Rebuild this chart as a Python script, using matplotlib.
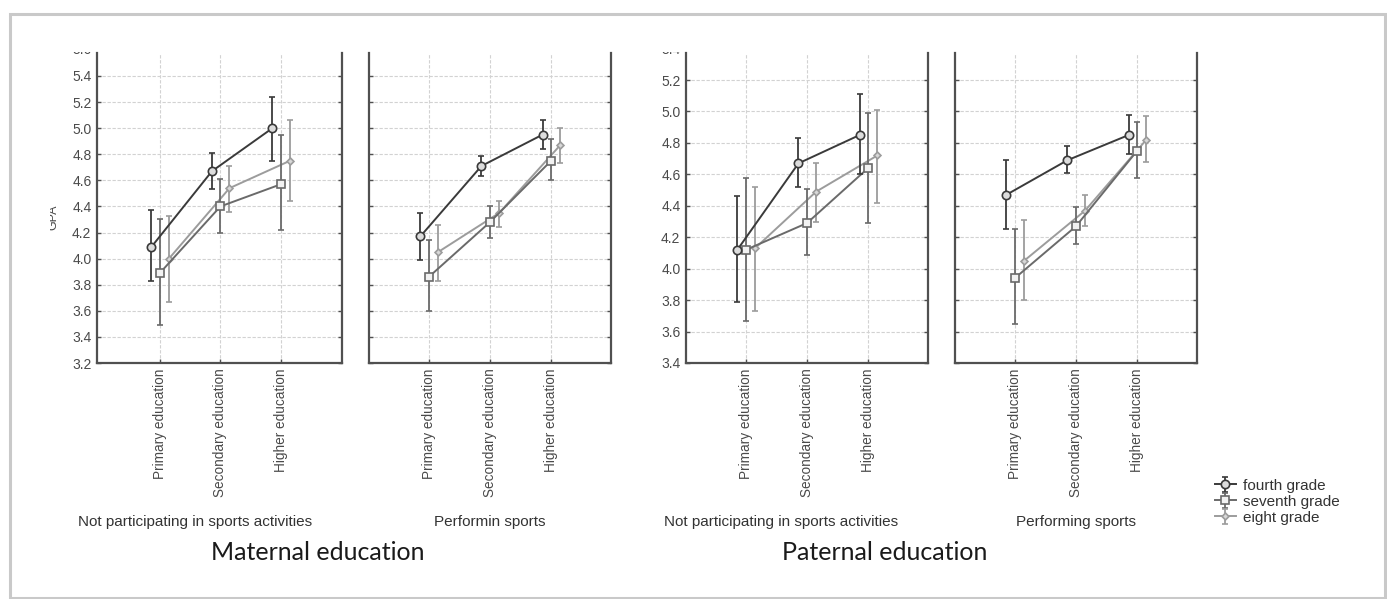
import matplotlib
matplotlib.use("Agg")
import matplotlib.pyplot as plt
from matplotlib.patches import Rectangle
from matplotlib.transforms import Bbox

# ---------------- data ----------------
categories = ["Primary education", "Secondary education", "Higher education"]
grades = ["fourth grade", "seventh grade", "eight grade"]
panel_titles = ["Not participating in sports activities", "Performin sports",
                "Not participating in sports activities", "Performing sports"]
group_titles = ["Maternal education", "Paternal education"]

# Maternal education, not participating
p1_fourth = [4.09, 4.67, 5.00]
p1_fourth_lo = [3.83, 4.53, 4.75]
p1_fourth_hi = [4.37, 4.81, 5.24]
p1_seventh = [3.89, 4.40, 4.57]
p1_seventh_lo = [3.49, 4.20, 4.22]
p1_seventh_hi = [4.30, 4.61, 4.95]
p1_eighth = [4.00, 4.54, 4.75]
p1_eighth_lo = [3.67, 4.36, 4.44]
p1_eighth_hi = [4.33, 4.71, 5.06]

# Maternal education, performing sports
p2_fourth = [4.17, 4.71, 4.95]
p2_fourth_lo = [3.99, 4.63, 4.84]
p2_fourth_hi = [4.35, 4.79, 5.06]
p2_seventh = [3.86, 4.28, 4.75]
p2_seventh_lo = [3.60, 4.16, 4.60]
p2_seventh_hi = [4.14, 4.40, 4.92]
p2_eighth = [4.05, 4.35, 4.87]
p2_eighth_lo = [3.83, 4.24, 4.73]
p2_eighth_hi = [4.26, 4.44, 5.00]

# Paternal education, not participating
p3_fourth = [4.12, 4.67, 4.85]
p3_fourth_lo = [3.79, 4.52, 4.60]
p3_fourth_hi = [4.46, 4.83, 5.11]
p3_seventh = [4.12, 4.29, 4.64]
p3_seventh_lo = [3.67, 4.09, 4.29]
p3_seventh_hi = [4.58, 4.51, 4.99]
p3_eighth = [4.13, 4.49, 4.72]
p3_eighth_lo = [3.73, 4.30, 4.42]
p3_eighth_hi = [4.52, 4.67, 5.01]

# Paternal education, performing sports
p4_fourth = [4.47, 4.69, 4.85]
p4_fourth_lo = [4.25, 4.61, 4.73]
p4_fourth_hi = [4.69, 4.78, 4.98]
p4_seventh = [3.94, 4.27, 4.75]
p4_seventh_lo = [3.65, 4.16, 4.58]
p4_seventh_hi = [4.25, 4.39, 4.93]
p4_eighth = [4.05, 4.37, 4.82]
p4_eighth_lo = [3.80, 4.27, 4.68]
p4_eighth_hi = [4.31, 4.47, 4.97]

panels = [
    [(p1_fourth, p1_fourth_lo, p1_fourth_hi), (p1_seventh, p1_seventh_lo, p1_seventh_hi), (p1_eighth, p1_eighth_lo, p1_eighth_hi)],
    [(p2_fourth, p2_fourth_lo, p2_fourth_hi), (p2_seventh, p2_seventh_lo, p2_seventh_hi), (p2_eighth, p2_eighth_lo, p2_eighth_hi)],
    [(p3_fourth, p3_fourth_lo, p3_fourth_hi), (p3_seventh, p3_seventh_lo, p3_seventh_hi), (p3_eighth, p3_eighth_lo, p3_eighth_hi)],
    [(p4_fourth, p4_fourth_lo, p4_fourth_hi), (p4_seventh, p4_seventh_lo, p4_seventh_hi), (p4_eighth, p4_eighth_lo, p4_eighth_hi)],
]

# ---------------- style ----------------
W, H = 1387, 599
plt.rcParams['font.family'] = ['Liberation Sans', 'DejaVu Sans']
fig = plt.figure(figsize=(W / 100, H / 100), dpi=100)
fig.patch.set_facecolor('white')

def px(x0, y0, x1, y1):
    return [x0 / W, 1 - y1 / H, (x1 - x0) / W, (y1 - y0) / H]

axes_px = [(97, 53, 342, 363), (369, 53, 611, 363), (686, 53, 928, 363), (955, 53, 1197, 363)]
xlims = [(-1.04, 3.01), (-0.98, 2.98), (-0.98, 2.98), (-0.98, 2.98)]
ylims = [(3.2, 5.576), (3.2, 5.576), (3.4, 5.372), (3.4, 5.372)]
yticks_sets = [[3.2 + 0.2 * i for i in range(12)], [3.2 + 0.2 * i for i in range(12)],
               [3.4 + 0.2 * i for i in range(10)], [3.4 + 0.2 * i for i in range(10)]]

colors = ['#3a3a3a', '#6a6a6a', '#9c9c9c']
markers = ['o', 's', 'D']
msizes = [6, 6, 3.5]
mfcs = ['#dcdcdc', '#f2f2f2', '#d8d8d8']
offsets = [-0.14, 0.0, 0.15]
spine_col = '#505050'
tick_col = '#4a4a4a'

handles = []
for k, (rect, series) in enumerate(zip(axes_px, panels)):
    ax = fig.add_axes(px(*rect))
    ax.set_xlim(*xlims[k])
    ax.set_ylim(*ylims[k])
    ax.set_yticks(yticks_sets[k])
    ax.set_xticks(range(len(categories)))
    ax.set_xticklabels(categories, rotation=90, fontsize=9.8, color=tick_col)
    if k in (0, 2):
        ax.set_yticklabels([f"{v:.1f}" for v in yticks_sets[k]], fontsize=10, color=tick_col)
    else:
        ax.set_yticklabels([])
    ax.tick_params(axis='both', direction='in', length=3, width=1, color=spine_col,
                   right=True, pad=4)
    ax.tick_params(axis='x', pad=4)
    ax.grid(True, color='#d2d2d2', linestyle=(0, (3, 1.5)), linewidth=0.8)
    ax.set_axisbelow(True)
    ax.spines['top'].set_visible(False)
    for s in ('left', 'right', 'bottom'):
        ax.spines[s].set_color(spine_col)
        ax.spines[s].set_linewidth(1.6)
    for g, (mean, lo, hi) in enumerate(series):
        xs = [i + offsets[g] for i in range(len(categories))]
        yerr = [[m - l for m, l in zip(mean, lo)], [h - m for m, h in zip(mean, hi)]]
        cont = ax.errorbar(xs, mean, yerr=yerr, color=colors[g], lw=1.4, elinewidth=1.3,
                           capsize=2.5, capthick=1.2, marker=markers[g], ms=msizes[g],
                           mfc=mfcs[g], mec=colors[g], mew=1.2, zorder=3 + (2 - g))
        if k == 0:
            handles.append(cont)

# clipped top tick labels (cut off by the screenshot)
clip = Bbox.from_extents(0, 0, W, H - 52)
for xx, lab in [(92, "5.6"), (681, "5.4")]:
    t = fig.text(xx / W, 1 - 50 / H, lab, ha='right', va='center', fontsize=10, color=tick_col)
    t.set_clip_box(clip)
    t.set_clip_on(True)

# y-axis label, partly cut
t = fig.text(53 / W, 1 - 217 / H, "GPA", rotation=90, ha='center', va='center', fontsize=9,
             color='#4a4a4a')
t.set_clip_box(Bbox.from_extents(50, 0, W, H))
t.set_clip_on(True)

# panel subtitles
for xc, lab in zip([195, 490, 781, 1076], panel_titles):
    fig.text(xc / W, 1 - 522 / H, lab, ha='center', va='center', fontsize=11, color='#333333')

# group titles
for xc, lab in zip([318, 885], group_titles):
    fig.text(xc / W, 1 - 553 / H, lab, ha='center', va='center', fontsize=18,
             family=['Lato', 'DejaVu Sans'], color='#1a1a1a')

# legend
leg = fig.legend(handles, grades, loc='upper left', bbox_to_anchor=(1207 / W, 1 - 471 / H),
                 frameon=False, fontsize=11, handlelength=1.4, handletextpad=0.45,
                 labelspacing=0.13, borderpad=0)
for txt in leg.get_texts():
    txt.set_color('#333333')

# screenshot frame
fig.patches.append(Rectangle((10 / W, 1 / H), (W - 12) / W, (H - 15) / H, transform=fig.transFigure,
                             fill=False, edgecolor='#c9c9c9', linewidth=2.2, zorder=0))

fig.savefig("out.png", dpi=100, facecolor='white')
